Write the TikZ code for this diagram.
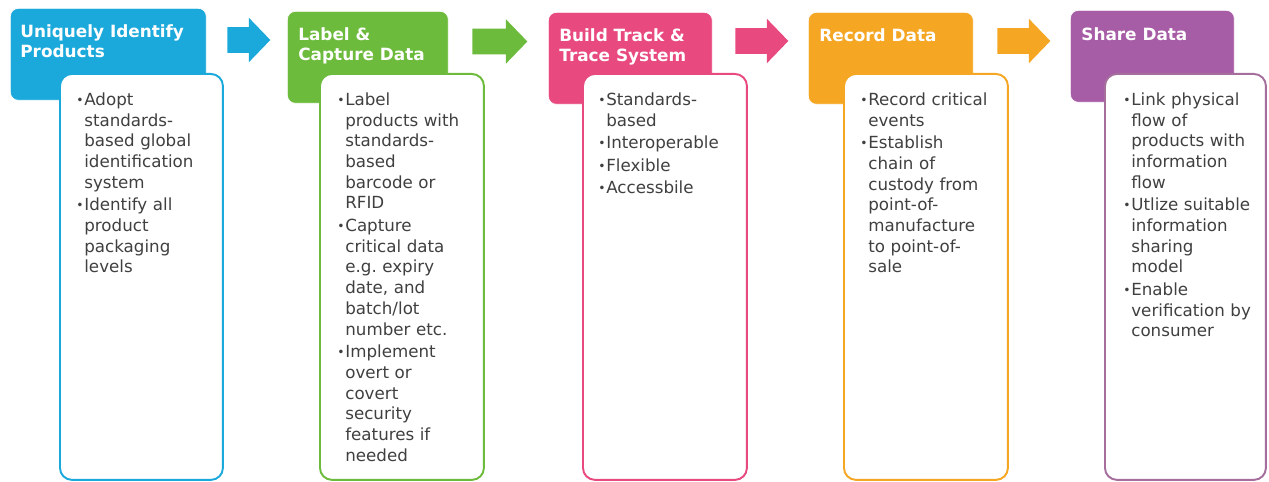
\documentclass[tikz,border=0pt]{standalone}
\usepackage{fontspec}
\setmainfont{DejaVu Sans}
\usetikzlibrary{positioning,shapes.arrows}

\definecolor{idblue}{HTML}{1BA9DB}
\definecolor{capgreen}{HTML}{6DBB3C}
\definecolor{tracepink}{HTML}{E84A7F}
\definecolor{recorange}{HTML}{F5A623}
\definecolor{sharepurple}{HTML}{A75DA6}
\definecolor{sharemauve}{HTML}{A56E9C}
\definecolor{itemgrey}{HTML}{404040}

% one bullet point with a hanging indent (\\ only breaks the line here)
\newcommand{\bitem}[1]{\par\hangindent=0.16cm\hangafter=1\noindent
  \makebox[0.16cm][l]{\raisebox{0.5pt}{\fontsize{7}{7}\selectfont\textbullet}}%
  {\let\\\newline #1}\par}

\tikzset{
  headbox/.style={anchor=north west, inner sep=0, rounded corners=0.16cm,
    draw=white, line width=0.4pt, minimum height=1.84cm},
  bodybox/.style={anchor=north west, inner sep=0, rounded corners=0.24cm,
    fill=white, line width=1.1pt, minimum width=3.26cm, minimum height=8.12cm},
  titletext/.style={anchor=north west, inner sep=0, text=white, align=left,
    font=\bfseries\fontsize{9.6}{11.3}\selectfont},
  itemtext/.style={anchor=north west, inner sep=0, text=itemgrey, text width=2.9cm,
    align=left, font=\fontsize{9.5}{11.8}\selectfont\setlength{\parskip}{1pt}},
  steparrow/.style={single arrow, anchor=tail, inner sep=0, draw=none,
    single arrow head extend=0.19cm, single arrow tip angle=92},
}

\begin{document}
\begin{tikzpicture}[x=0.02cm, y=-0.02cm]
  \useasboundingbox (0,0) rectangle (1269,482);

  % coloured title boxes
  \node[headbox, fill=idblue, minimum width=3.92cm] (h1) at (10,8) {};
  \node[headbox, fill=capgreen, minimum width=3.22cm] (h2) at (287,11) {};
  \node[headbox, fill=tracepink, minimum width=3.28cm] (h3) at (548,12) {};
  \node[headbox, fill=recorange, minimum width=3.30cm] (h4) at (808,12) {};
  \node[headbox, fill=sharepurple, minimum width=3.28cm] (h5) at (1070,10) {};

  % white boxes for the bullet lists
  \node[bodybox, draw=idblue] (b1) at (59,73) {};
  \node[bodybox, draw=capgreen, minimum width=3.28cm] (b2) at (319,73) {};
  \node[bodybox, draw=tracepink, minimum width=3.28cm] (b3) at (582,73) {};
  \node[bodybox, draw=recorange, minimum width=3.28cm] (b4) at (843,73) {};
  \node[bodybox, draw=sharemauve, minimum width=3.22cm] (b5) at (1104,73) {};

  % block arrows between the steps
  \node[steparrow, fill=idblue, minimum height=0.86cm] (a1) at (227,40) {\rule{0pt}{0.5cm}};
  \node[steparrow, fill=capgreen, minimum height=1.10cm] (a2) at (472,41.5) {\rule{0pt}{0.5cm}};
  \node[steparrow, fill=tracepink, minimum height=1.06cm] (a3) at (735,41) {\rule{0pt}{0.5cm}};
  \node[steparrow, fill=recorange, minimum height=1.06cm] (a4) at (997,41) {\rule{0pt}{0.5cm}};

  % titles
  \node[titletext, below right=0.33cm and 0.2cm of h1.north west] (t1) {Uniquely Identify\\Products};
  \node[titletext, below right=0.33cm and 0.22cm of h2.north west] (t2) {Label \&\\Capture Data};
  \node[titletext, below right=0.33cm and 0.22cm of h3.north west] (t3) {Build Track \&\\Trace System};
  \node[titletext, below right=0.33cm and 0.22cm of h4.north west] (t4) {Record Data};
  \node[titletext, below right=0.35cm and 0.22cm of h5.north west] (t5) {Share Data};

  % bullet lists
  \node[itemtext, below right=0.19cm and 0.34cm of b1.north west] (l1) {%
    \bitem{Adopt\\standards-\\based global\\identification\\system}
    \bitem{Identify all\\product\\packaging\\levels}};
  \node[itemtext, below right=0.19cm and 0.36cm of b2.north west] (l2) {%
    \bitem{Label\\products with\\standards-\\based\\barcode or\\RFID}
    \bitem{Capture\\critical data\\e.g.\ expiry\\date, and\\batch/lot\\number etc.}
    \bitem{Implement\\overt or\\covert\\security\\features if\\needed}};
  \node[itemtext, below right=0.19cm and 0.32cm of b3.north west] (l3) {%
    \bitem{Standards-\\based}
    \bitem{Interoperable}
    \bitem{Flexible}
    \bitem{Accessbile}};
  \node[itemtext, below right=0.19cm and 0.34cm of b4.north west] (l4) {%
    \bitem{Record critical\\events}
    \bitem{Establish\\chain of\\custody from\\point-of-\\manufacture\\to point-of-\\sale}};
  \node[itemtext, below right=0.19cm and 0.38cm of b5.north west] (l5) {%
    \bitem{Link physical\\flow of\\products with\\information\\flow}
    \bitem{Utlize suitable\\information\\sharing\\model}
    \bitem{Enable\\verification by\\consumer}};
\end{tikzpicture}
\end{document}
